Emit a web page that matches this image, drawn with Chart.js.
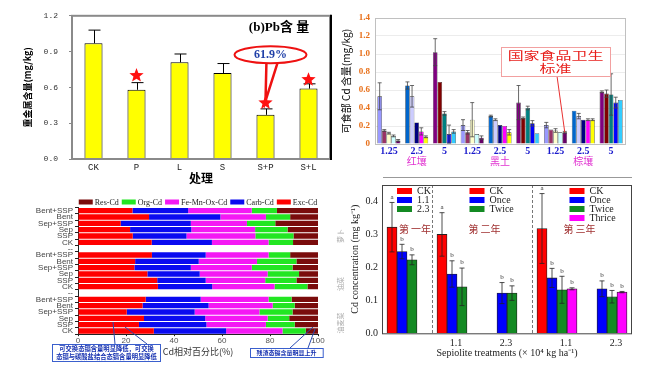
<!DOCTYPE html>
<html><head><meta charset="utf-8">
<script src="https://cdn.jsdelivr.net/npm/chart.js@4.4.1/dist/chart.umd.min.js"></script>
<style>
html,body{margin:0;padding:0;background:#fff;}
body{width:657px;height:380px;position:relative;overflow:hidden;}
canvas{position:absolute;}
.side{position:absolute;color:#aaa;font:7px "Noto Sans CJK SC";transform:translate(-50%,-50%) rotate(-90deg);white-space:nowrap;}
</style></head><body>
<canvas id="c1" width="333" height="190" style="left:0;top:0"></canvas>
<canvas id="c2" width="325" height="180" style="left:332px;top:0"></canvas>
<canvas id="c3" width="330" height="185" style="left:0;top:190px"></canvas>
<canvas id="c4" width="325" height="205" style="left:332px;top:175px"></canvas>
<div style="position:absolute;left:383px;top:177px;width:249px;height:1px;background:#999"></div>
<div class="side" style="left:340px;top:236px">萝卜</div>
<div class="side" style="left:340px;top:284px">油菜</div>
<div class="side" style="left:340px;top:323px">油麦菜</div>
<script>
// ================= DATA =================
// Chart 1: Pb content
const pbCategories = ['CK','P','L','S','S+P','S+L'];
const pbMeans  = [0.97,0.58,0.81,0.72,0.37,0.59];
const pbErrors = [0.11,0.06,0.07,0.08,0.05,0.04];
const pbStarLevels = [null,0.70,null,null,0.47,0.665];
const pbReduction = '61.9%';

// Chart 2: edible Cd content
const cdDoseLabels = ['1.25','2.5','5','1.25','2.5','5','1.25','2.5','5'];
const cdSoils = ['红壤','黑土','棕壤'];
const cdS1 = [0.53,0.65,1.02,0.21,0.31,0.46,0.21,0.37,0.58];
const cdS2 = [0.15,0.53,0.69,0.13,0.27,0.29,0.16,0.31,0.56];
const cdS3 = [0.12,0.24,0.34,0.27,0.21,0.40,0.15,0.27,0.55];
const cdS4 = [0.09,0.14,0.11,0.11,0.20,0.23,0.13,0.27,0.46];
const cdS5 = [0.04,0.08,0.14,0.07,0.13,0.12,0.13,0.27,0.49];
const cdE1 = [0.15,0.04,0.15,0.06,0.01,0.19,0.03,0.00,0.01];
const cdE2 = [0.01,0.12,0.00,0.02,0.01,0.01,0.00,0.03,0.04];
const cdE3 = [0.01,0.00,0.02,0.19,0.00,0.02,0.02,0.00,0.23];
const cdE4 = [0.01,0.04,0.10,0.00,0.00,0.03,0.00,0.01,0.06];
const cdE5 = [0.01,0.01,0.02,0.02,0.03,0.00,0.01,0.01,0.00];
const cdStandardLabel = ['国家食品卫生','标准'];

// Chart 3: Cd fractions (%)
const fracRows = ['Bent+SSP','Bent','Sep+SSP','Sep','SSP','CK','--','Bent+SSP','Bent','Sep+SSP','Sep','SSP','CK','--','Bent+SSP','Bent','Sep+SSP','Sep','SSP','CK'];
const fracNames = ['Exc-Cd','Carb-Cd','Fe-Mn-Ox-Cd','Org-Cd','Res-Cd'];
const fracExc  = [22.7,29.6,17.8,21.7,22.8,30.7,null,30.8,23.8,23.5,28.9,33.0,33.3,null,28.2,26.9,20.3,27.5,25.4,31.6];
const fracCarb = [23.2,29.7,29.2,25.5,22.4,25.1,null,22.4,26.5,23.5,21.8,20.2,22.6,null,22.9,27.5,28.3,25.5,28.1,30.1];
const fracFeMn = [26.5,19.0,23.4,26.6,28.7,23.6,null,26.2,24.3,25.4,28.3,24.8,26.0,null,28.3,26.7,27.0,26.0,24.8,23.5];
const fracOrg  = [10.5,10.1,11.8,13.5,15.9,10.2,null, 9.0,16.4,17.0,13.1,13.0,13.7,null, 9.6, 9.2,13.8, 9.0,12.0, 9.7];
const fracRes  = [17.1,11.6,17.8,12.7,10.2,10.4,null,11.6, 9.0,10.6, 7.9, 9.0, 4.4,null,11.0, 9.7,10.6,12.0, 9.7, 5.1];
const fracNote1 = ['可交换态镉含量明显降低，可交换','态镉与碳酸盐结合态镉含量明显降低'];
const fracNote2 = '残渣态镉含量明显上升';

// Chart 4: sepiolite treatments
const N = null;
const sepSlots = ['','','','','','','','1.1','','','','','2.3','','','','','','1.1','','','','','2.3','',''];
const sepCK     = [N,0.322,N,N,N,N,0.300,N,N,N,N,N,N,N,N,N,0.318,N,N,N,N,N,N,N,N,N];
const sepOnce   = [N,N,0.248,N,N,N,N,0.180,N,N,N,N,0.122,N,N,N,N,0.168,N,N,N,N,0.135,N,N,N];
const sepTwice  = [N,N,N,0.223,N,N,N,N,0.141,N,N,N,N,0.122,N,N,N,N,0.132,N,N,N,N,0.111,N,N];
const sepThrice = [N,N,N,N,N,N,N,N,N,N,N,N,N,N,N,N,N,N,N,0.135,N,N,N,N,0.125,N];
const sepCKErr     = [N,0.075,N,N,N,N,0.066,N,N,N,N,N,N,N,N,N,0.106,N,N,N,N,N,N,N,N,N];
const sepOnceErr   = [N,N,0.022,N,N,N,N,0.040,N,N,N,N,0.032,N,N,N,N,0.029,N,N,N,N,0.024,N,N,N];
const sepTwiceErr  = [N,N,N,0.015,N,N,N,N,0.057,N,N,N,N,0.022,N,N,N,N,0.041,N,N,N,N,0.019,N,N];
const sepThriceErr = [N,N,N,N,N,N,N,N,N,N,N,N,N,N,N,N,N,N,N,0.003,N,N,N,N,0.002,N];
const sepLetters = ['a','b','b','b'];
const sepPanelLegends = [['CK','1.1','2.3'],['CK','Once','Twice'],['CK','Once','Twice','Thrice']];
const sepYears = ['第 一年','第 二年','第 三年'];
const sepDividers = [5,15];

// ================= SETUP =================
Chart.defaults.animation = false;
Chart.defaults.responsive = false;
Chart.defaults.devicePixelRatio = 1;
Chart.defaults.plugins.legend.display = false;
Chart.defaults.plugins.tooltip.enabled = false;
const SERIF = '"Liberation Serif","Noto Sans CJK SC"';
const CJK = '"Noto Sans CJK SC"';

function drawStar(ctx,cx,cy,R,r,color){
  ctx.beginPath();
  for(let k=0;k<10;k++){const ang=-Math.PI/2+k*Math.PI/5;const rad=k%2?r:R;ctx.lineTo(cx+rad*Math.cos(ang),cy+rad*Math.sin(ang));}
  ctx.closePath();ctx.fillStyle=color;ctx.fill();
}

// ================= CHART 1 =================
const pbPlugin = {
  id:'pbExtras',
  afterDatasetsDraw(chart){
    const {ctx, chartArea:a, scales:{x,y}} = chart;
    ctx.save();
    ctx.strokeStyle='#000'; ctx.lineWidth=1;
    pbMeans.forEach((m,i)=>{
      const px=Math.round(x.getPixelForValue(i))+0.5;
      const y0=y.getPixelForValue(m), y1=y.getPixelForValue(m+pbErrors[i]);
      ctx.beginPath(); ctx.moveTo(px,y0); ctx.lineTo(px,y1); ctx.moveTo(px-6,y1); ctx.lineTo(px+6,y1); ctx.stroke();
    });
    ctx.strokeStyle='#8a8a8a'; ctx.lineWidth=2;
    ctx.strokeRect(a.left,a.top,a.width,a.height);
    ctx.strokeStyle='#000'; ctx.beginPath(); ctx.moveTo(a.right+1,a.top-1); ctx.lineTo(a.right+1,a.bottom+1); ctx.stroke();
    ctx.fillStyle='#000'; ctx.font='bold 13px '+SERIF; ctx.textAlign='center'; ctx.textBaseline='middle';
    ctx.fillText('(b)Pb含 量', a.right-51, a.top+12);
    const ix = pbCategories.indexOf('S+P');
    const sx = x.getPixelForValue(ix), sy = y.getPixelForValue(pbStarLevels[ix]);
    const cx = sx+5, cy = a.top+39;
    ctx.beginPath(); ctx.moveTo(cx-4,cy+5); ctx.lineTo(sx,sy-2); ctx.lineTo(cx+8,cy+5); ctx.closePath();
    ctx.fillStyle='#fff'; ctx.fill(); ctx.strokeStyle='#ee1111'; ctx.lineWidth=2.5; ctx.stroke();
    ctx.beginPath(); ctx.ellipse(cx,cy,36,8.5,0,0,Math.PI*2); ctx.fillStyle='#fff'; ctx.fill(); ctx.lineWidth=2; ctx.stroke();
    ctx.fillStyle='#2040a8'; ctx.font='bold 12px '+SERIF; ctx.fillText(pbReduction, cx, cy+0.5);
    pbStarLevels.forEach((s,i)=>{ if(s==null) return; drawStar(ctx, x.getPixelForValue(i), y.getPixelForValue(s), 7.5, 3.2, '#ff1010'); });
    ctx.restore();
  }
};
new Chart(document.getElementById('c1'), {
  type:'bar',
  data:{labels:pbCategories, datasets:[{label:'Pb', data:pbMeans, backgroundColor:'#ffff00', borderColor:'#000', borderWidth:1, barPercentage:0.42, categoryPercentage:1}]},
  options:{
    layout:{padding:{top:15,right:3,left:0,bottom:0}},
    scales:{
      x:{grid:{display:false,drawTicks:false}, border:{color:'#888',width:2},
         ticks:{font:{family:'"Liberation Mono"',size:9}, color:'#222', padding:3},
         title:{display:true,text:'处理',font:{family:CJK,size:12,weight:'bold'},color:'#000',padding:{top:0,bottom:4.8}},
         afterFit(s){s.height=31;}},
      y:{min:0,max:1.2,
         ticks:{stepSize:0.3, callback:v=>v.toFixed(1), font:{family:'"Liberation Mono"',size:8}, color:'#333', padding:11},
         grid:{drawOnChartArea:false, tickLength:3, color:'#888'}, border:{color:'#888',width:2},
         title:{display:true,text:'重金属含量(mg/kg)',font:{family:CJK,size:9,weight:'bold'},color:'#000',padding:{top:22.6,bottom:0}},
         afterFit(s){s.width=72;}}
    }
  },
  plugins:[pbPlugin]
});

// ================= CHART 2 =================
const cdSeries = [cdS1,cdS2,cdS3,cdS4,cdS5];
const cdErrs = [cdE1,cdE2,cdE3,cdE4,cdE5];
const cdPalette = {
  '1.25':['#9999ff','#993366','#ffffcc','#ccffff','#660066'],
  '2.5': ['#0066cc','#ccccff','#000080','#ff00ff','#ffff00'],
  '5':   ['#800080','#800000','#008080','#0000ff','#33ccff']
};
const cdPlugin = {
  id:'cdExtras',
  afterDatasetsDraw(chart){
    const {ctx, chartArea:a, scales:{x,y}} = chart;
    ctx.save();
    ctx.strokeStyle='#c0c0c0'; ctx.lineWidth=1;
    ctx.strokeRect(a.left+0.5,a.top+0.5,a.width,a.height);
    ctx.strokeStyle='#444'; ctx.lineWidth=0.8;
    cdSeries.forEach((d,di)=>{
      const meta=chart.getDatasetMeta(di);
      d.forEach((v,i)=>{
        const e=cdErrs[di][i]; if(!e) return;
        const el=meta.data[i];
        const yt=y.getPixelForValue(v+e), yb=y.getPixelForValue(Math.max(0,v-e));
        ctx.beginPath(); ctx.moveTo(el.x,yt); ctx.lineTo(el.x,yb);
        ctx.moveTo(el.x-2,yt); ctx.lineTo(el.x+2,yt); ctx.moveTo(el.x-2,yb); ctx.lineTo(el.x+2,yb); ctx.stroke();
      });
    });
    ctx.fillStyle='#e030d0'; ctx.font='10px '+CJK; ctx.textAlign='center'; ctx.textBaseline='middle';
    cdSoils.forEach((s,k)=>{ ctx.fillText(s, x.getPixelForValue(k*3+1), a.bottom+17); });
    const bx=a.left+126, by=a.top+29, bw=109, bh=29;
    const tgt=chart.getDatasetMeta(4).data[6];
    ctx.strokeStyle='#e83030'; ctx.lineWidth=1;
    ctx.beginPath(); ctx.moveTo(bx+56,by+bh); ctx.lineTo(tgt.x,tgt.y); ctx.stroke();
    ctx.fillStyle='#fff'; ctx.fillRect(bx,by,bw,bh);
    ctx.strokeStyle='#f2a0a0'; ctx.strokeRect(bx+0.5,by+0.5,bw,bh);
    ctx.fillStyle='#e8201c'; ctx.font='11px '+CJK;
    [0,1].forEach(k=>{
      ctx.save(); ctx.translate(bx+bw/2, by+8.5+k*13); ctx.scale(1.45,1);
      ctx.fillText(cdStandardLabel[k],0,0); ctx.restore();
    });
    ctx.restore();
  }
};
new Chart(document.getElementById('c2'), {
  type:'bar',
  data:{labels:cdDoseLabels, datasets:cdSeries.map((d,k)=>({label:'S'+(k+1), data:d,
    backgroundColor:cdDoseLabels.map(l=>cdPalette[l][k]), borderColor:'#333', borderWidth:0.6,
    barPercentage:1, categoryPercentage:0.83}))},
  options:{
    layout:{padding:{top:18,right:32,left:0,bottom:0}},
    scales:{
      x:{grid:{display:false,drawTicks:false}, border:{color:'#888'},
         ticks:{font:{family:SERIF,size:10,weight:'bold'}, color:'#1a1acc', padding:1},
         afterFit(s){s.height=36;}},
      y:{min:0,max:1.4,
         ticks:{stepSize:0.2, font:{family:SERIF,size:9,weight:'bold'}, color:'#e8701a', padding:5},
         grid:{color:'#ececec', drawTicks:false}, border:{color:'#999'},
         title:{display:true,text:'可食部 Cd 含量(mg/kg)',font:{family:CJK,size:10},color:'#000',padding:{top:8,bottom:0}},
         afterFit(s){s.width=43;}}
    }
  },
  plugins:[cdPlugin]
});

// ================= CHART 3 =================
const fracSeries = [fracExc,fracCarb,fracFeMn,fracOrg,fracRes];
const fracColors = ['#ff0000','#0a0af0','#f418f4','#22e622','#7a0c0c'];
const fracPlugin = {
  id:'fracExtras',
  afterDraw(chart){
    const {ctx, chartArea:a} = chart;
    ctx.save();
    ctx.font='8px '+SERIF; ctx.textBaseline='middle'; ctx.textAlign='left';
    const order=[4,3,2,1,0];
    const widths=order.map(k=>14+2+ctx.measureText(fracNames[k]).width);
    const total=widths.reduce((s,w)=>s+w,0)+3*(order.length-1);
    let lx=(a.left+a.right)/2-total/2; const ly=12;
    order.forEach((k,j)=>{
      ctx.fillStyle=fracColors[k]; ctx.fillRect(lx,ly-2.5,14,5);
      ctx.fillStyle='#222'; ctx.fillText(fracNames[k],lx+16,ly+0.5);
      lx+=widths[j]+3;
    });
    ctx.strokeStyle='#2a4ab0'; ctx.lineWidth=1;
    ctx.beginPath();
    ctx.moveTo(115,154); ctx.lineTo(113,132);
    ctx.moveTo(147,154); ctx.lineTo(125,137);
    ctx.moveTo(290,158); ctx.lineTo(313,137);
    ctx.moveTo(308,158); ctx.lineTo(315,139);
    ctx.stroke();
    ctx.fillStyle='#fff'; ctx.fillRect(52.5,154,108,17); ctx.fillRect(250,158.3,72.7,9);
    ctx.strokeStyle='#3a5fcd'; ctx.strokeRect(52.5,154.5,108,17); ctx.strokeRect(250.5,158.5,72.7,9);
    ctx.fillStyle='#1530b0'; ctx.font='bold 6.3px '+CJK; ctx.textAlign='center';
    ctx.fillText(fracNote1[0],106.5,159); ctx.fillText(fracNote1[1],106.5,167);
    ctx.font='bold 6px '+CJK; ctx.fillText(fracNote2,286.5,163);
    ctx.restore();
  }
};
new Chart(document.getElementById('c3'), {
  type:'bar',
  data:{labels:fracRows, datasets:fracNames.map((n,k)=>({label:n, data:fracSeries[k], backgroundColor:fracColors[k], borderWidth:0, barPercentage:0.84, categoryPercentage:1}))},
  options:{
    indexAxis:'y',
    layout:{padding:{top:17.5,right:12,left:0,bottom:0}},
    scales:{
      x:{stacked:true,min:0,max:100,
         ticks:{stepSize:20,font:{family:'"Liberation Sans"',size:8},color:'#555',padding:0},
         grid:{drawOnChartArea:false,tickLength:2,color:'#222'}, border:{color:'#222'},
         title:{display:true,text:'Cd相对百分比(%)',font:{family:CJK,size:9},color:'#333',padding:{top:0,bottom:17.9}},
         afterFit(s){s.height=40.8;}},
      y:{stacked:true,
         ticks:{autoSkip:false,font:{family:'"Liberation Sans"',size:8},color:'#444',padding:2},
         grid:{drawOnChartArea:false,tickLength:3,color:'#222'}, border:{color:'#222'},
         afterFit(s){s.width=78;}}
    }
  },
  plugins:[fracPlugin]
});

// ================= CHART 4 =================
const sepData = [sepCK,sepOnce,sepTwice,sepThrice];
const sepErr = [sepCKErr,sepOnceErr,sepTwiceErr,sepThriceErr];
const sepColors = ['#ff0000','#0000ff','#138a23','#ff00ff'];
const sepPlugin = {
  id:'sepExtras',
  afterDatasetsDraw(chart){
    const {ctx, chartArea:a, scales:{x,y}} = chart;
    ctx.save();
    ctx.strokeStyle='#777'; ctx.lineWidth=1; ctx.setLineDash([3,2]);
    const divX = sepDividers.map(d=>Math.round(x.getPixelForValue(d))+0.5);
    divX.forEach(px=>{ctx.beginPath();ctx.moveTo(px,a.top);ctx.lineTo(px,a.bottom);ctx.stroke();});
    ctx.setLineDash([]);
    ctx.strokeStyle='#222'; ctx.lineWidth=0.8;
    ctx.font='7px '+SERIF; ctx.textAlign='center'; ctx.textBaseline='bottom'; ctx.fillStyle='#333';
    sepData.forEach((d,di)=>{
      const meta=chart.getDatasetMeta(di);
      d.forEach((v,i)=>{
        if(v==null) return;
        const e=sepErr[di][i]; const el=meta.data[i];
        const yt=y.getPixelForValue(v+e), yb=y.getPixelForValue(v-e);
        ctx.beginPath(); ctx.moveTo(el.x,yt); ctx.lineTo(el.x,yb);
        ctx.moveTo(el.x-2.5,yt); ctx.lineTo(el.x+2.5,yt); ctx.moveTo(el.x-2.5,yb); ctx.lineTo(el.x+2.5,yb); ctx.stroke();
        ctx.fillText(sepLetters[di], el.x, yt-2);
      });
    });
    ctx.strokeStyle='#444'; ctx.lineWidth=1;
    ctx.strokeRect(a.left+0.5,a.top+0.5,a.width-1,a.height);
    const legX=[a.left+15, divX[0]+37, divX[1]+37];
    ctx.font='10px '+SERIF; ctx.textAlign='left'; ctx.textBaseline='middle';
    sepPanelLegends.forEach((items,p)=>{
      items.forEach((t,k)=>{
        const yy=a.top+6+k*9;
        ctx.fillStyle=sepColors[k]; ctx.fillRect(legX[p],yy-3,15,6);
        ctx.fillStyle='#222'; ctx.fillText(t,legX[p]+20,yy+0.5);
      });
    });
    const yrX=[a.left+33, divX[0]+52, divX[1]+47];
    ctx.font='10px '+CJK; ctx.fillStyle='#a03030'; ctx.textAlign='center';
    sepYears.forEach((t,p)=>ctx.fillText(t,yrX[p],a.top+44));
    ctx.restore();
  }
};
new Chart(document.getElementById('c4'), {
  type:'bar',
  data:{labels:sepSlots, datasets:sepData.map((d,k)=>({label:sepPanelLegends[2][k], data:d, backgroundColor:sepColors[k], borderColor:'#222', borderWidth:0.8, barPercentage:1, categoryPercentage:1, grouped:false}))},
  options:{
    layout:{padding:{top:4,right:25,left:0,bottom:0}},
    scales:{
      x:{type:'category', offset:false, grid:{display:false,drawTicks:false}, border:{display:false},
         ticks:{autoSkip:false,maxRotation:0,minRotation:0,labelOffset:4,font:{family:SERIF,size:10},color:'#222',padding:4},
         title:{display:true,text:'Sepiolite treatments (× 10⁴ kg ha⁻¹)',font:{family:SERIF,size:10},color:'#222',padding:{top:0,bottom:20.7}},
         afterFit(s){s.height=46.7;}},
      y:{min:0,max:0.45,
         ticks:{stepSize:0.1,includeBounds:false,callback:v=>v.toFixed(1),font:{family:SERIF,size:10},color:'#222',padding:4},
         grid:{display:false,drawTicks:false}, border:{display:false},
         title:{display:true,text:'Cd concentration (mg kg⁻¹)',font:{family:SERIF,size:10},color:'#222',padding:{top:17,bottom:0}},
         afterFit(s){s.width=50;}}
    }
  },
  plugins:[sepPlugin]
});
</script>
</body></html>
